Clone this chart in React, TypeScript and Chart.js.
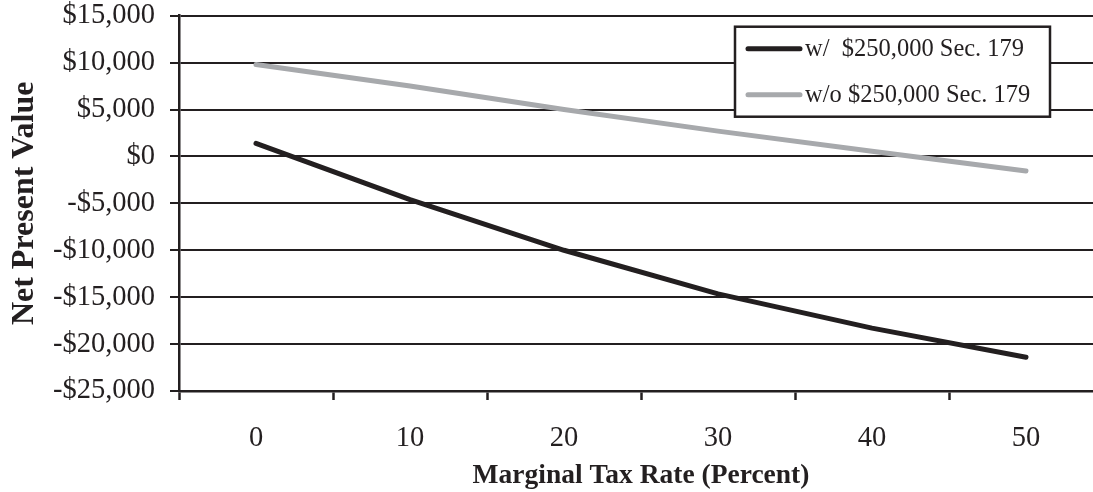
import React, { useEffect, useRef } from "react";
import { Chart, registerables } from "chart.js";

Chart.register(...registerables);

const categories = ["0", "10", "20", "30", "40", "50"];
const withSec179 = [1400, -4600, -10000, -14650, -18300, -21400];
const withoutSec179 = [9800, 7500, 5000, 2700, 550, -1550];
const seriesLabels = ["w/  $250,000 Sec. 179", "w/o $250,000 Sec. 179"];
const yMin = -25000;
const yMax = 15000;
const yStep = 5000;
const xTitle = "Marginal Tax Rate (Percent)";
const yTitle = "Net Present Value";

const INK = "#231f20";
const GRAY = "#a7a9ac";
const FONT = "'Liberation Serif', 'Times New Roman', serif";

const fmtMoney = (v: number) =>
  (v < 0 ? "-" : "") + "$" + Math.abs(v).toLocaleString("en-US");

const legendBox = {
  id: "legendBox",
  afterDraw(chart: any) {
    const { ctx, chartArea } = chart;
    const x = chartArea.left + 556;
    const y = chartArea.top + 11;
    const w = 315;
    const h = 90;
    ctx.save();
    ctx.fillStyle = "#ffffff";
    ctx.fillRect(x, y, w, h);
    ctx.strokeStyle = INK;
    ctx.lineWidth = 2.5;
    ctx.strokeRect(x, y, w, h);
    chart.data.datasets.forEach((ds: any, i: number) => {
      const ly = y + 22 + i * 46;
      ctx.beginPath();
      ctx.strokeStyle = ds.borderColor;
      ctx.lineWidth = 5;
      ctx.lineCap = "round";
      ctx.moveTo(x + 13, ly);
      ctx.lineTo(x + 65, ly);
      ctx.stroke();
      ctx.fillStyle = INK;
      ctx.font = `24.5px ${FONT}`;
      ctx.textBaseline = "middle";
      ctx.textAlign = "left";
      ctx.fillText(ds.label, x + 70, ly + 1);
    });
    ctx.restore();
  },
};

export default function App() {
  const ref = useRef<HTMLCanvasElement | null>(null);

  useEffect(() => {
    if (!ref.current) return;
    const chart = new Chart(ref.current, {
      type: "line",
      data: {
        labels: categories,
        datasets: [
          {
            label: seriesLabels[0],
            data: withSec179,
            borderColor: INK,
            borderWidth: 5,
            pointRadius: 0,
            tension: 0,
            borderCapStyle: "round",
            borderJoinStyle: "round",
          },
          {
            label: seriesLabels[1],
            data: withoutSec179,
            borderColor: GRAY,
            borderWidth: 5,
            pointRadius: 0,
            tension: 0,
            borderCapStyle: "round",
            borderJoinStyle: "round",
          },
        ],
      },
      options: {
        responsive: false,
        animation: false,
        devicePixelRatio: 1,
        layout: { padding: { top: 0, right: 7, left: 0, bottom: 0 } },
        plugins: {
          legend: { display: false },
          tooltip: { enabled: false },
        },
        scales: {
          x: {
            type: "category",
            offset: true,
            afterFit: (s: any) => {
              s.height = 101;
            },
            grid: {
              offset: true,
              drawOnChartArea: false,
              drawTicks: true,
              tickLength: 9,
              tickWidth: 2.5,
              tickColor: INK,
            },
            border: { display: true, color: INK, width: 2.5 },
            ticks: {
              color: INK,
              font: { family: FONT, size: 28.5 },
              padding: 21,
              maxRotation: 0,
            },
            title: {
              display: true,
              text: xTitle,
              color: INK,
              font: { family: FONT, size: 27.5, weight: "bold" },
              padding: { top: 0, bottom: 0 },
            },
          },
          y: {
            min: yMin,
            max: yMax,
            afterFit: (s: any) => {
              s.width = 179;
            },
            grid: {
              color: INK,
              lineWidth: 2,
              drawTicks: true,
              tickLength: 9,
              tickColor: INK,
            },
            border: { display: true, color: INK, width: 2.5 },
            ticks: {
              stepSize: yStep,
              color: INK,
              font: { family: FONT, size: 28.5, lineHeight: 0.05 },
              padding: 15,
              callback: (v: any) => fmtMoney(Number(v)),
            },
            title: {
              display: true,
              text: yTitle,
              color: INK,
              font: { family: FONT, size: 32, weight: "bold", lineHeight: 1.2 },
              padding: { top: 6, bottom: 0 },
            },
          },
        },
      },
      plugins: [legendBox],
    });
    return () => chart.destroy();
  }, []);

  return (
    <div
      style={{
        position: "fixed",
        left: 0,
        top: 0,
        width: 1093,
        height: 492,
        overflow: "hidden",
        background: "#ffffff",
      }}
    >
      <canvas ref={ref} width={1110} height={492} style={{ display: "block" }} />
    </div>
  );
}
